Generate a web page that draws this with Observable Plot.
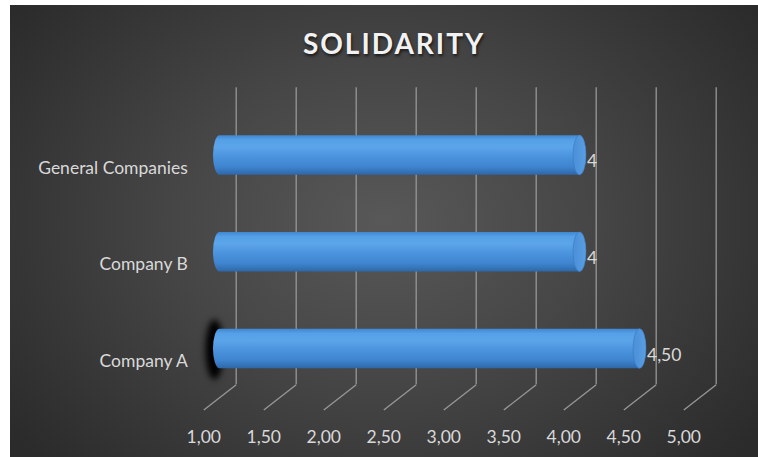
<!DOCTYPE html>
<html>
<head>
<meta charset="utf-8">
<script src="https://cdn.jsdelivr.net/npm/d3@7"></script>
<script src="https://cdn.jsdelivr.net/npm/@observablehq/plot@0.6"></script>
<style>
  html, body { margin: 0; padding: 0; background: #ffffff; }
  #chart {
    position: absolute; left: 10px; top: 5px; width: 748px; height: 452px;
    background: radial-gradient(ellipse 62% 78% at 50% 48%, #585858 0%, #464646 45%, #2b2b2b 100%);
    overflow: hidden;
  }
  #title {
    position: absolute; left: 10px; top: 24px; width: 748px; text-align: center;
    font-family: Lato, "Open Sans", sans-serif; font-weight: 700; font-size: 28px; line-height: 28px;
    letter-spacing: 2px; color: #f2f2f2; text-shadow: 1px 2px 3px rgba(0,0,0,0.65);
    margin: 0;
  }
  #plot { position: absolute; left: 0; top: 0; }
  g[aria-description="shadow"] rect { filter: blur(3px); }
</style>
</head>
<body>
<div id="chart">
  <div id="plot"></div>
</div>
<script>
// ---- data ----
const categories = ["Company A", "Company B", "General Companies"]; // bottom to top
const values = [4.5, 4, 4];
const valueLabels = ["4,50", "4", "4"];
const ticks = [1, 1.5, 2, 2.5, 3, 3.5, 4, 4.5, 5];
const tickLabels = ["1,00", "1,50", "2,00", "2,50", "3,00", "3,50", "4,00", "4,50", "5,00"];
const shadowed = ["Company A"];
const titleText = "SOLIDARITY";

// ---- layout constants (3D depth offset in data units) ----
const DX = 0.135, DY = 0.13, BAR_H = 0.205, FLOOR = -0.5, TOP = 2.57;

const data = categories.map((c, i) => ({cat: c, idx: i, value: values[i], label: valueLabels[i]}));

const title = document.createElement("div");
title.id = "title";
title.textContent = titleText;
document.getElementById("chart").appendChild(title);

const grid = "#979797";
const txt = "#d9d9d9";
const fs = 17.5;

const plot = Plot.plot({
  width: 748,
  height: 452,
  marginLeft: 209.5,
  marginRight: 58.5,
  marginTop: 101.6,
  marginBottom: 60.1,
  x: {domain: [1, 5], axis: null},
  y: {domain: [-0.5, 2.5], axis: null},
  style: {background: "transparent", fontFamily: "Lato, 'Open Sans', sans-serif", overflow: "visible"},
  marks: [
    // back wall gridlines
    Plot.ruleX(ticks, {x: t => t + DX, y1: () => FLOOR + DY, y2: () => TOP + DY, stroke: grid, strokeWidth: 1.3}),
    // floor diagonals
    Plot.link(ticks, {x1: t => t - DX, y1: () => FLOOR - DY, x2: t => t + DX, y2: () => FLOOR + DY, stroke: grid, strokeWidth: 1.3}),
    // shadow
    Plot.rect(data.filter(d => shadowed.includes(d.cat)), {
      x1: () => 1, x2: () => 1, y1: d => d.idx - 0.32, y2: d => d.idx + 0.3,
      insetLeft: -9, insetRight: -9, rx: 9, ry: 30, dx: -5, fill: "#000", fillOpacity: 1, ariaDescription: "shadow"
    }),
    // cylinders
    Plot.rect(data, {
      x1: () => 1, x2: "value", y1: d => d.idx - BAR_H, y2: d => d.idx + BAR_H,
      insetLeft: -6.5, insetRight: -6.5, rx: 6.5, ry: 20, fill: "url(#cyl)"
    }),
    // end caps
    Plot.rect(data, {
      x1: "value", x2: "value", y1: d => d.idx - BAR_H, y2: d => d.idx + BAR_H,
      insetLeft: -6.5, insetRight: -6.5, rx: 6.5, ry: 20, fill: "url(#cap)", stroke: "#3a79bf", strokeWidth: 0.6
    }),
    // category labels
    Plot.text(data, {x: () => 1 - DX, y: d => d.idx - DY, text: "cat", textAnchor: "end", dx: -16, fill: txt, fontSize: fs}),
    // tick labels
    Plot.text(ticks, {x: t => t - DX, y: () => FLOOR - DY, text: (t, i) => tickLabels[i], dy: 27, fill: txt, fontSize: fs}),
    // value labels
    Plot.text(data, {x: "value", y: "idx", text: "label", textAnchor: "start", dx: 7, dy: 6, fill: txt, fontSize: fs})
  ]
});

const svg = d3.select(plot);
svg.insert("defs", ":first-child").html(`
  <linearGradient id="cyl" x1="0" y1="0" x2="0" y2="1">
    <stop offset="0%" stop-color="#3f86d2"/>
    <stop offset="12%" stop-color="#55a0e6"/>
    <stop offset="30%" stop-color="#5ca5ea"/>
    <stop offset="55%" stop-color="#4a93dd"/>
    <stop offset="80%" stop-color="#3f84ce"/>
    <stop offset="100%" stop-color="#2d67a7"/>
  </linearGradient>
  <linearGradient id="cap" x1="0" y1="0" x2="1" y2="0">
    <stop offset="0%" stop-color="#4a8fd8"/>
    <stop offset="100%" stop-color="#5a9fe2"/>
  </linearGradient>
`);

document.getElementById("plot").appendChild(plot);
</script>
</body>
</html>
